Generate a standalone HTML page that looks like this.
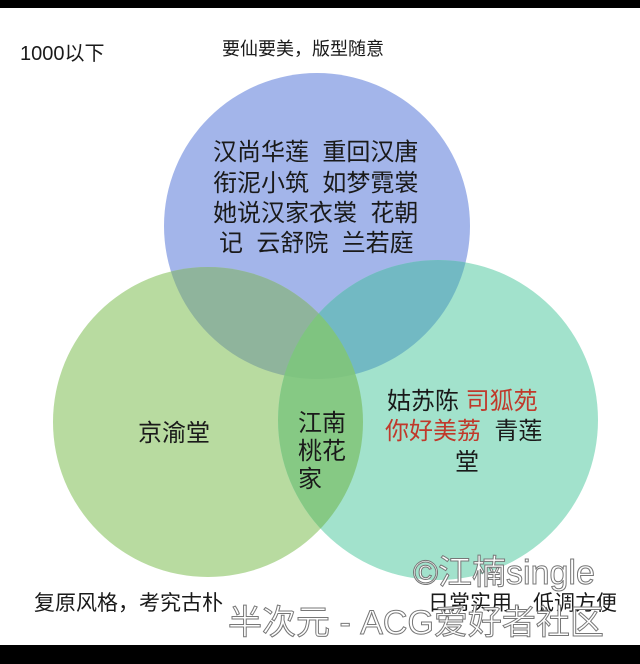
<!DOCTYPE html>
<html><head><meta charset="utf-8"><style>
body{margin:0;width:640px;height:664px;overflow:hidden;background:#fff;font-family:"Liberation Sans","Noto Sans CJK SC",sans-serif}
</style></head><body>
<svg width="640" height="664" viewBox="0 0 640 664" xmlns="http://www.w3.org/2000/svg" style="position:absolute;left:0;top:0">
<defs>
<clipPath id="cb"><circle cx="317" cy="226" r="153"/></clipPath>
<clipPath id="cl"><circle cx="208" cy="422" r="155"/></clipPath>
<clipPath id="cr"><circle cx="438" cy="420" r="160"/></clipPath>
</defs>
<rect x="0" y="0" width="640" height="8" fill="#000"/>
<rect x="0" y="645" width="640" height="19" fill="#000"/>
<circle cx="317" cy="226" r="153" fill="#a3b5ea"/>
<circle cx="208" cy="422" r="155" fill="#b8dba0"/>
<circle cx="438" cy="420" r="160" fill="#a2e2cc"/>
<g clip-path="url(#cb)"><circle cx="208" cy="422" r="155" fill="#8fb49c"/><circle cx="438" cy="420" r="160" fill="#72b9c3"/></g>
<g clip-path="url(#cl)"><circle cx="438" cy="420" r="160" fill="#86c984"/></g>
<g clip-path="url(#cb)"><g clip-path="url(#cl)"><circle cx="438" cy="420" r="160" fill="#7fc480"/></g></g>
<g font-family="Liberation Sans, Noto Sans CJK SC, sans-serif" fill="#1a1a1a">
<text x="20" y="60" font-size="20">1000以下</text>
<text x="222" y="55" font-size="18">要仙要美，版型随意</text>
<g font-size="24">
<text x="213" y="160">汉尚华莲&#160;&#160;重回汉唐</text>
<text x="213" y="191">衔泥小筑&#160;&#160;如梦霓裳</text>
<text x="213" y="221">她说汉家衣裳&#160;&#160;花朝</text>
<text x="219" y="251">记&#160;&#160;云舒院&#160;&#160;兰若庭</text>
<text x="138" y="441">京渝堂</text>
<text x="298" y="431">江南</text>
<text x="298" y="459">桃花</text>
<text x="298" y="487">家</text>
<text x="387" y="409">姑苏陈 <tspan fill="#c0392b">司狐苑</tspan></text>
<text x="385" y="439"><tspan fill="#c0392b">你好美荔</tspan>&#160;&#160;青莲</text>
<text x="455" y="470">堂</text>
</g>
<text x="34" y="610" font-size="21">复原风格，考究古朴</text>
<text x="428" y="610" font-size="21">日常实用，低调方便</text>
</g>
<g font-family="Liberation Sans, Noto Sans CJK SC, sans-serif" fill="#fff" stroke="#777" stroke-width="1" font-size="34">
<text x="413" y="584">©江楠single</text>
<text x="228" y="634">半次元 - ACG爱好者社区</text>
</g>
</svg>
</body></html>
